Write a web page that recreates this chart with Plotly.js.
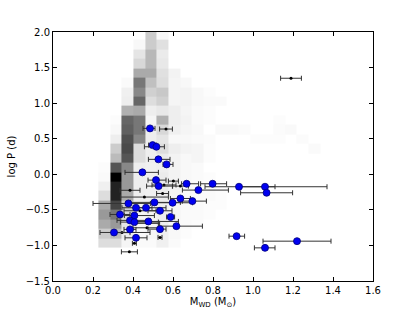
<!DOCTYPE html>
<html>
<head>
<meta charset="utf-8">
<script src="https://cdn.plot.ly/plotly-3.0.1.min.js"></script>
<style>html,body{margin:0;padding:0;background:#fff;}#chart{width:415px;height:312px;}</style>
</head>
<body>
<div id="chart"></div>
<script>
// ---- histogram (grey density map) ----
var massBinEdges = [0.227, 0.285, 0.344, 0.402, 0.460, 0.519, 0.577, 0.635, 0.693, 0.752,
                    0.810, 0.868, 0.927, 0.985, 1.043, 1.102, 1.160, 1.218, 1.277, 1.335];
var logPBinEdges = [-1.030, -0.897, -0.765, -0.632, -0.500, -0.367, -0.234, -0.102, 0.031, 0.163,
                    0.296, 0.429, 0.561, 0.694, 0.826, 0.959, 1.092, 1.224, 1.357, 1.489,
                    1.622, 1.755, 1.887, 2.020];
// density (0 = white, 255 = black), rows from low logP to high logP
var density = [
  [34, 34, 10,  5,  5, 15,  5,  0,  0,  0,  0,  0,  0,  0,  0,  0,  0,  0,  0],
  [51, 68, 17,  5, 10, 15,  7,  3,  0,  0,  0,  0,  0,  0,  0,  0,  0,  0,  0],
  [85,102, 26,  7, 10, 17,  7,  5,  3,  0,  0,  0,  0,  0,  0,  0,  0,  0,  0],
  [102,136,34, 10, 12, 17, 10,  5,  5,  3,  0,  0,  0,  0,  0,  0,  0,  0,  0],
  [85,187, 51, 12, 15, 17, 10,  7,  5,  3,  3,  0,  0,  0,  0,  0,  0,  0,  0],
  [34,221, 85, 17, 15, 20, 12,  7,  5,  5,  3,  0,  0,  0,  0,  0,  0,  0,  0],
  [15,221,102, 17, 15, 20, 12,  7,  5,  3,  0,  0,  0,  0,  0,  0,  0,  0,  0],
  [ 5,255,102, 17, 15, 20, 12,  7,  5,  3,  0,  0,  0,  0,  0,  0,  0,  0,  0],
  [ 3,170,119, 17, 15, 17, 12,  7,  5,  0,  0,  0,  0,  0,  0,  0,  0,  0,  0],
  [ 0, 68,170, 34, 17, 20, 12,  7, 10,  3,  0,  0,  0,  0,  0,  0,  0,  0,  0],
  [ 0, 51,181, 34, 17, 34, 17, 12, 10,  3,  0,  0,  0,  0,  0,  0,  0,  0,  5],
  [ 0, 17,175,119, 17, 26,  7,  7,  5,  4,  0,  0,  0,  3,  3,  3,  0,  4,  0],
  [ 0,  7,159,136, 17, 39, 15, 10,  7,  0,  6,  6,  4,  0,  0,  4,  6,  0,  0],
  [ 0,  3,153,136, 10, 79, 17, 12,  5,  3,  0,  0,  0,  0,  0,  3,  0,  0,  0],
  [ 0,  0, 79, 85, 17, 23, 17, 10,  5,  3,  0,  0,  0,  0,  0,  0,  0,  0,  0],
  [ 0,  0, 17,153, 34, 47, 10, 12,  7,  5,  5,  0,  0,  0,  0,  0,  0,  0,  0],
  [ 0,  0, 15,119, 47, 55, 10, 12,  7,  3,  0,  0,  0,  0,  0,  0,  0,  0,  0],
  [ 0,  0,  5,136, 63, 34, 10,  7,  0,  0,  0,  0,  0,  0,  0,  0,  0,  0,  0],
  [ 0,  0,  0, 85, 85, 31, 12,  0,  0,  0,  0,  0,  0,  0,  0,  0,  0,  0,  0],
  [ 0,  0,  0, 39, 71, 23,  0,  0,  0,  0,  0,  0,  0,  0,  0,  0,  0,  0,  0],
  [ 0,  0,  0, 26, 71, 20,  0,  0,  0,  0,  0,  0,  0,  0,  0,  0,  0,  0,  0],
  [ 0,  0,  0,  7, 51, 31,  0,  0,  0,  0,  0,  0,  0,  0,  0,  0,  0,  0,  0],
  [ 0,  0,  0,  0, 51,  7,  0,  0,  0,  0,  0,  0,  0,  0,  0,  0,  0,  0,  0]
];

// ---- blue observed systems ----
var blueMass  = [0.527, 0.568, 0.447, 0.515, 0.528, 0.668, 0.798, 0.930, 1.060, 1.068,
                 0.918, 1.220, 1.060, 0.727, 0.377, 0.507, 0.598, 0.637, 0.697, 0.415,
                 0.465, 0.535, 0.335, 0.407, 0.588, 0.385, 0.407, 0.477, 0.617, 0.535,
                 0.385, 0.305, 0.415, 0.485, 0.498, 0.517];
var blueLogP  = [0.210, 0.139, 0.027, -0.082, -0.166, -0.133, -0.133, -0.175, -0.175, -0.260,
                 -0.870, -0.940, -1.034, -0.222, -0.410, -0.395, -0.400, -0.340, -0.377, -0.470,
                 -0.470, -0.513, -0.565, -0.580, -0.600, -0.648, -0.672, -0.663, -0.729, -0.771,
                 -0.775, -0.818, -0.893, 0.645, 0.410, 0.387];
var blueErrLo = [0.050, 0.018, 0.087, 0.040, 0.060, 0.025, 0.060, 0.170, 0.130, 0.130,
                 0.038, 0.170, 0.053, 0.080, 0.177, 0.120, 0.080, 0.050, 0.050, 0.070,
                 0.060, 0.060, 0.050, 0.050, 0.020, 0.065, 0.070, 0.080, 0.090, 0.060,
                 0.030, 0.070, 0.055, 0.035, 0.020, 0.060];
var blueErrHi = [0.058, 0.032, 0.080, 0.050, 0.070, 0.060, 0.070, 0.180, 0.310, 0.130,
                 0.040, 0.170, 0.050, 0.150, 0.110, 0.130, 0.100, 0.050, 0.070, 0.080,
                 0.100, 0.060, 0.050, 0.100, 0.020, 0.100, 0.120, 0.150, 0.130, 0.030,
                 0.030, 0.180, 0.055, 0.025, 0.020, 0.040];

// ---- small black systems ----
var blackMass  = [1.190, 0.565, 0.602, 0.555, 0.637, 0.548, 0.385, 0.457, 0.435, 0.345,
                  0.473, 0.407, 0.382, 0.535, 0.470];
var blackLogP  = [1.350, 0.636, -0.096, -0.150, -0.166, -0.270, -0.225, -0.320, -0.513, -0.820,
                  -0.690, -0.970, -1.090, -0.887, -0.752];
var blackErr   = [0.052, 0.032, 0.025, 0.060, 0.040, 0.030, 0.050, 0.120, 0.080, 0.040,
                  0.060, 0.010, 0.040, 0.010, 0.070];

var tickFont = {family: 'DejaVu Sans, sans-serif', size: 10, color: '#000'};

var traces = [
  {
    type: 'heatmap',
    x: massBinEdges, y: logPBinEdges, z: density,
    zmin: 0, zmax: 255,
    colorscale: [[0, '#ffffff'], [1, '#000000']],
    showscale: false, hoverinfo: 'skip', zsmooth: false
  },
  {
    type: 'scatter', mode: 'markers',
    x: blackMass, y: blackLogP,
    marker: {color: '#000', size: 3},
    error_x: {type: 'data', array: blackErr, color: '#333', thickness: 1, width: 2.5},
    hoverinfo: 'skip'
  },
  {
    type: 'scatter', mode: 'markers',
    x: blueMass, y: blueLogP,
    marker: {color: '#0000f0', size: 7, line: {color: '#00007a', width: 0.8}},
    error_x: {type: 'data', symmetric: false, array: blueErrHi, arrayminus: blueErrLo,
              color: '#333', thickness: 1, width: 2.5},
    hoverinfo: 'skip'
  }
];

var layout = {
  width: 415, height: 312,
  margin: {l: 53, r: 42, t: 32, b: 31},
  paper_bgcolor: '#fff', plot_bgcolor: '#fff',
  showlegend: false,
  font: tickFont,
  xaxis: {
    range: [0, 1.6], dtick: 0.2, tick0: 0, tickformat: '.1f',
    ticks: 'inside', ticklen: 4, tickcolor: '#000', tickwidth: 1,
    showline: true, linecolor: '#000', linewidth: 1, mirror: 'ticks',
    showgrid: false, zeroline: false, tickfont: tickFont,
    title: {text: 'M<sub>WD</sub> (M<sub>⊙</sub>)', font: tickFont, standoff: 2}
  },
  yaxis: {
    range: [-1.5, 2.0], dtick: 0.5, tick0: 0, tickformat: '.1f',
    ticks: 'inside', ticklen: 4, tickcolor: '#000', tickwidth: 1,
    showline: true, linecolor: '#000', linewidth: 1, mirror: 'ticks',
    showgrid: false, zeroline: false, tickfont: tickFont,
    title: {text: 'log P (d)', font: tickFont, standoff: 8}
  }
};

Plotly.newPlot('chart', traces, layout, {displayModeBar: false, staticPlot: true});
</script>
</body>
</html>
